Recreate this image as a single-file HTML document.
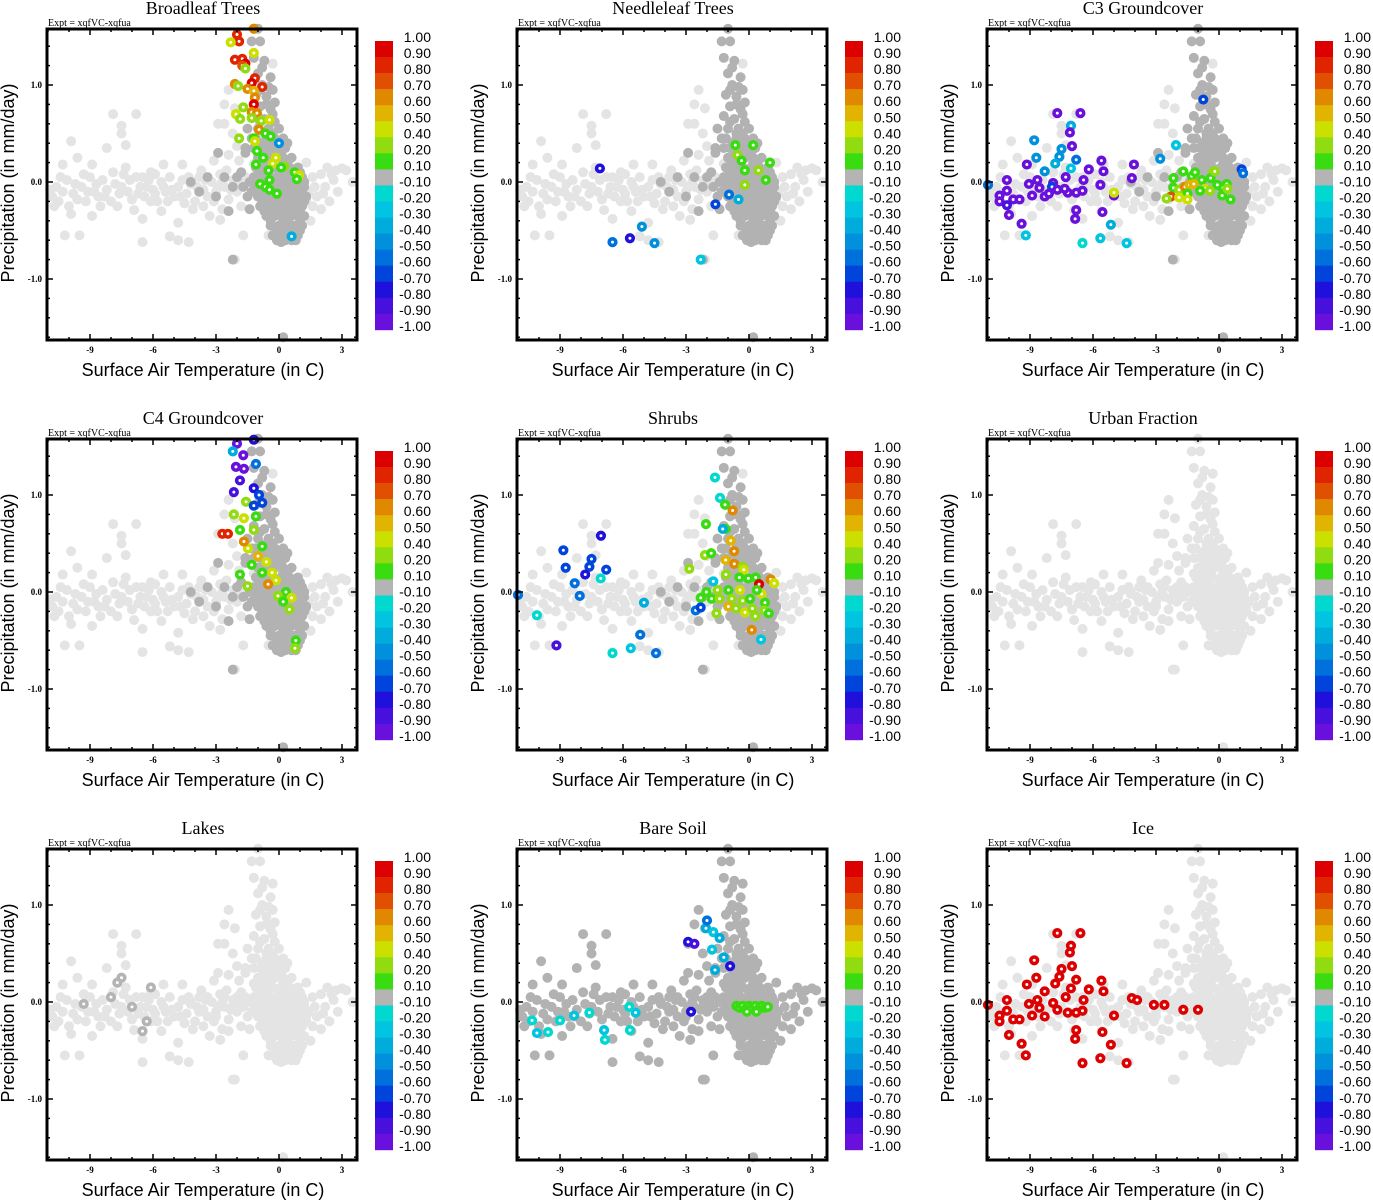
<!DOCTYPE html>
<html><head><meta charset="utf-8">
<style>
html,body{margin:0;padding:0;background:#fff;}
svg{display:block;}
.ttl{font-family:"Liberation Serif",serif;font-size:18px;}
.expt{font-family:"Liberation Serif",serif;font-size:10px;}
.tick{font-family:"Liberation Serif",serif;font-size:9px;font-weight:bold;}
.axt{font-family:"Liberation Sans",sans-serif;font-size:18px;}
.cbl{font-family:"Liberation Sans",sans-serif;font-size:14px;}
</style></head>
<body>
<svg id="fig" width="1373" height="1200" viewBox="0 0 1373 1200" xmlns="http://www.w3.org/2000/svg"></svg>
<script>
// ---- data (temperature in C, precipitation in mm/day, value) ----
const panelTitles = ["Broadleaf Trees","Needleleaf Trees","C3 Groundcover","C4 Groundcover","Shrubs","Urban Fraction","Lakes","Bare Soil","Ice"];
const xTicks = [-9,-6,-3,0,3];
const yTicks = [1.0,0.0,-1.0];
const yTickLabels = ["1.0","0.0","-1.0"];
const cbLevels = [1.0,0.9,0.8,0.7,0.6,0.5,0.4,0.2,0.1,-0.1,-0.2,-0.3,-0.4,-0.5,-0.6,-0.7,-0.8,-0.9,-1.0];
const cbLabels = ["1.00","0.90","0.80","0.70","0.60","0.50","0.40","0.20","0.10","-0.10","-0.20","-0.30","-0.40","-0.50","-0.60","-0.70","-0.80","-0.90","-1.00"];
const cbColors = ["#dc0000","#e02400","#e05000","#e08800","#e0b400","#cce000","#90dc10","#38dc10","#b4b4b4","#00d8d0","#00c4e0","#00acdc","#0090dc","#0070dc","#0044dc","#2010dc","#4810dc","#6a10dc"];

const bandPts = [[-10.8,-0.15],[-10.6,-0.05],[-10.5,-0.2],[-10.3,-0.1],[-10.1,0.02],[-10,-0.25],[-9.8,-0.12],[-9.6,-0.18],[-9.4,-0.05],[-9.2,-0.2],[-9,0.05],[-8.8,-0.1],[-8.6,-0.15],[-8.4,0.02],[-8.2,-0.08],[-8,-0.2],[-7.8,-0.02],[-7.6,-0.12],[-7.4,0.08],[-7.2,-0.1],[-7,-0.18],[-6.8,0.05],[-6.6,-0.05],[-6.4,-0.15],[-6.2,0.02],[-6,-0.08],[-5.8,-0.2],[-5.6,0.0],[-5.4,-0.1],[-5.2,0.05],[-5,-0.15],[-4.8,-0.05],[-4.6,0.02],[-4.4,-0.12],[-4.2,-0.02],[-4,-0.2],[-3.8,0.05],[-3.6,-0.08],[-3.4,-0.15],[-3.2,0.0],[-3,-0.1],[-2.8,0.08],[-2.6,-0.05],[-2.4,-0.18],[-2.2,0.02],[-2,-0.1],[-1.8,-0.25],[-1.6,0.05],[1.2,0.0],[1.4,-0.1],[1.6,0.05],[1.8,-0.15],[2,0.08],[2.2,-0.05],[2.4,-0.2],[2.6,0.02],[2.8,-0.1],[3.2,0.12],[3.5,0.0],
[-10.3,0.18],[-9.9,0.42],[-9.6,0.25],[-8.9,0.18],[-8.2,0.35],[-7.9,0.7],[-7.5,0.58],[-7.5,0.5],[-7.3,0.38],[-6.8,0.7],[-6.5,0.05],[-5.5,0.18],[-4.6,0.18],[-3.1,0.22],[-2.9,0.6],[-2.6,0.6],[-2.4,0.28],[-2.0,0.37],[-2.1,0.76],[-1.9,0.22],[-1.2,0.19],[2.7,0.12],[3,0.14],
[-9.9,-0.33],[-9.5,-0.55],[-8.9,-0.35],[-6.9,-0.29],[-6.5,-0.38],[-5.6,-0.3],[-5.2,-0.56],[-4.8,-0.42],[-4.3,-0.62],[-3.3,-0.35],[-2.8,-0.39],[-2.1,-0.8],[-1.7,-0.55],[-0.5,-0.55],[0.5,-0.48],[1.5,-0.4],[2,-0.28],[-10.2,-0.55],[-6.5,-0.62],[-4.8,-0.6],
[-10.7,-0.25],[-9.1,-0.1],[-8.5,-0.25],[-7.7,-0.25],[-6.1,-0.2],[-5.9,0.08],[-4.1,-0.28],[-3.6,-0.25],[-2.7,-0.28],[-2.5,0.12],[-2.4,0.95],[-2.6,0.8],[-0.3,1.22],[-2.2,0.5],[1.6,-0.25],[2.3,0.15],[1.3,0.2],
[-10.9,-0.08],[-10.4,0.05],[-9.7,-0.02],[-9.3,0.08],[-8.7,-0.02],[-8.3,-0.15],[-7.9,0.1],[-7.5,-0.05],[-7.1,0.02],[-6.7,-0.12],[-6.3,-0.05],[-5.9,-0.12],[-5.5,-0.05],[-5.1,-0.08],[-4.7,-0.15],[-4.3,0.05],[-3.9,-0.05],[-3.5,0.02],[-3.1,-0.2],[-2.7,0.0],[-2.3,-0.08],[-1.9,0.0],[-5.3,-0.2],[-4.5,-0.22],[-3.7,0.12],[-2.9,-0.05],[1.3,-0.2],[1.7,-0.05],[2.1,-0.12],[2.5,0.08],[-7.3,0.15],[-6.1,0.1]];

const corePts = [[-0.6,0.45],[-0.2,0.45],[0.2,0.45],[-0.9,0.35],[-0.5,0.35],[-0.1,0.35],[0.3,0.35],[-1.0,0.25],[-0.6,0.25],[-0.2,0.25],[0.2,0.25],[0.6,0.25],[-1.1,0.15],[-0.7,0.15],[-0.3,0.15],[0.1,0.15],[0.5,0.15],[0.9,0.15],[-1.2,0.05],[-0.8,0.05],[-0.4,0.05],[0,0.05],[0.4,0.05],[0.8,0.05],[1.1,0.05],[-1.1,-0.05],[-0.7,-0.05],[-0.3,-0.05],[0.1,-0.05],[0.5,-0.05],[0.9,-0.05],[1.2,-0.05],[-1.0,-0.15],[-0.6,-0.15],[-0.2,-0.15],[0.2,-0.15],[0.6,-0.15],[1.0,-0.15],[1.3,-0.15],[-0.9,-0.25],[-0.5,-0.25],[-0.1,-0.25],[0.3,-0.25],[0.7,-0.25],[1.1,-0.25],[-0.6,-0.35],[-0.2,-0.35],[0.2,-0.35],[0.6,-0.35],[1.0,-0.35],[1.2,-0.35],[-0.4,-0.45],[0,-0.45],[0.4,-0.45],[0.8,-0.45],[1.1,-0.45],[-0.3,-0.55],[0.1,-0.55],[0.5,-0.55],[0.9,-0.55],
[-0.8,0.4],[-0.4,0.2],[0.0,0.1],[0.3,0.0],[0.7,-0.1],[0.0,-0.3],[0.4,-0.4],[0.8,-0.3],[-0.3,-0.1],[0.6,0.1],[1.0,0.0],[-0.5,0.0],
[-0.4,0.4],[0.0,0.4],[-0.7,0.3],[-0.3,0.3],[0.1,0.3],[0.4,0.2],[-0.8,0.2],[0.2,0.2],[-0.9,0.1],[-0.5,0.1],[0.3,0.1],[0.7,0.1],[1.0,0.1],[-1.0,0.0],[-0.6,0.0],[-0.2,0.0],[0.5,0.0],[0.8,0.0],[1.2,0.0],[-0.9,-0.1],[-0.5,-0.1],[-0.1,-0.1],[0.3,-0.1],[1.1,-0.1],[-0.8,-0.2],[-0.4,-0.2],[0.0,-0.2],[0.4,-0.2],[0.8,-0.2],[1.2,-0.2],[-0.7,-0.3],[-0.3,-0.3],[0.4,-0.3],[1.0,-0.3],[-0.4,-0.4],[0.2,-0.4],[0.6,-0.45],[1.0,-0.4],[-0.1,-0.5],[0.3,-0.5],[0.7,-0.5],[1.0,-0.5],[-0.1,-0.6],[0.3,-0.6],[0.6,-0.6],
[-4.2,0.0],[-3.8,-0.1],[-3.4,0.05],[-3.0,-0.15],[-2.6,0.05],[-2.2,-0.05],[-1.8,0.1],[-1.5,-0.15],[-2.9,0.3],[-2.4,-0.3],[-1.6,0.3],[-1.4,0.0],[-1.7,-0.05],[-2.0,0.05],[-1.3,-0.1],
[-1.0,1.58],[-1.3,1.45],[-0.9,1.45],[-1.2,1.28],[-0.7,1.25],[-1.0,1.12],[-0.4,1.08],[-0.8,1.0],[-0.3,0.95],[-1.1,0.9],[-0.6,0.88],[-0.2,0.82],[-0.9,0.78],[-0.4,0.75],[-1.2,0.68],[-0.7,0.65],[-0.2,0.62],[-1.5,0.55],[-1.0,0.55],[-0.5,0.55],[-1.3,0.45],[0.0,0.55],[-1.6,0.35],[0.4,0.4],[-1.4,-0.28],[0.1,-0.62],[0.8,-0.6],[-2.2,-0.8],[0.2,-1.6],
[-0.8,1.18],[-0.5,0.98],[-0.9,0.95],[-0.6,0.8],[-0.3,0.7],[-0.9,0.62],[-0.6,0.5],[-0.3,0.5],[-1.1,0.45],[-1.2,0.35]];

const broadleafVals = [[-1.2,1.58,.65],[-2.0,1.52,.85],[-1.9,1.45,.85],[-2.3,1.44,.45],[-1.2,1.33,.45],[-2.1,1.26,.85],[-1.75,1.27,.85],[-1.6,1.22,.95],[-1.75,1.2,.75],[-1.6,1.17,.3],[-1.15,1.07,.85],[-1.3,1.02,.95],[-0.8,0.98,.85],[-2.1,1.01,.65],[-1.95,0.99,.3],[-1.5,0.96,.65],[-1.2,0.94,.55],[-1.15,0.87,.65],[-1.2,0.8,.95],[-1.7,0.77,.3],[-2.05,0.7,.45],[-1.85,0.65,.3],[-1.3,0.72,.65],[-1.05,0.71,.65],[-1.3,0.66,.3],[-0.85,0.63,.3],[-0.45,0.64,.45],[-0.95,0.54,.65],[-0.65,0.5,.15],[-0.4,0.47,.15],[-1.9,0.45,.3],[-1.2,0.45,.15],[-1.15,0.42,.45],[-1.05,0.32,.15],[-0.75,0.25,.15],[-0.15,0.25,.45],[-0.3,0.19,.45],[-1.1,0.18,.15],[0.25,0.16,.3],[0.1,0.15,.15],[-0.5,0.12,.15],[0.75,0.1,.15],[0.95,0.07,.45],[0.85,0.03,.15],[-0.45,0.02,.15],[-0.9,-0.02,.15],[-0.65,-0.05,.15],[-0.1,-0.12,.15],[0.0,0.4,-.45],[0.6,-0.56,-.35],[-0.45,-0.08,.15]];
const needleleafVals = [[-7.1,0.14,-.75],[-6.5,-0.62,-.55],[-5.67,-0.58,-.75],[-5.1,-0.46,-.45],[-4.5,-0.63,-.45],[-2.3,-0.8,-.25],[-1.6,-0.23,-.65],[-0.65,0.38,.15],[-0.55,0.28,.3],[-0.2,0.12,.15],[-0.2,-0.03,.3],[0.45,0.12,.3],[0.8,0.02,.15],[1.0,0.2,.15],[0.2,0.38,.15],[-0.35,0.22,.15],[-0.95,-0.13,-.55],[-0.5,-0.18,-.35]];
const c3Vals = [[-7.7,0.71,-.95],[-6.6,0.71,-.95],[-7.05,0.58,-.35],[-7.1,0.51,-.95],[-8.8,0.43,-.45],[-7.0,0.37,-.95],[-7.5,0.34,-.45],[-7.6,0.26,-.45],[-8.7,0.25,-.45],[-6.8,0.23,-.55],[-9.15,0.18,-.95],[-7.8,0.19,-.35],[-5.6,0.22,-.95],[-4.05,0.18,-.95],[-8.3,0.11,-.45],[-7.05,0.14,-.25],[-6.2,0.13,-.95],[-5.5,0.11,-.95],[-7.3,0.05,-.95],[-6.45,0.02,-.95],[-8.65,0.02,-.95],[-10.1,0.02,-.95],[-9.05,-0.02,-.95],[-7.9,-0.01,-.95],[-7.95,-0.05,-.65],[-11.0,-0.03,-.55],[-8.55,-0.06,-.95],[-7.7,-0.08,-.95],[-7.2,-0.11,-.95],[-7.35,-0.07,-.95],[-6.8,-0.11,-.95],[-6.5,-0.09,-.95],[-5.65,-0.03,-.95],[-10.1,-0.09,-.95],[-8.9,-0.14,-.95],[-8.3,-0.15,-.95],[-8.1,-0.12,-.95],[-10.45,-0.14,-.95],[-10.45,-0.2,-.95],[-9.8,-0.18,-.95],[-9.5,-0.18,-.95],[-10.1,-0.24,-.85],[-5.0,-0.14,-.95],[-4.15,0.04,-.95],[-5.0,-0.11,.45],[-10.0,-0.34,-.95],[-6.8,-0.29,-.95],[-5.55,-0.31,-.95],[-6.85,-0.38,-.95],[-9.4,-0.43,-.95],[-9.2,-0.55,-.25],[-6.5,-0.63,-.15],[-5.65,-0.58,-.25],[-4.4,-0.63,-.25],[-5.15,-0.44,-.35],[-2.8,0.24,-.45],[-2.05,0.38,-.25],[-0.75,0.85,-.65],[1.08,0.13,-.65],[1.15,0.09,-.55],
[-1.7,0.11,.15],[-1.3,0.06,.15],[-2.17,0.04,.15],[-0.82,0.02,.15],[-0.27,0.11,.3],[-0.4,0.04,.15],[0.13,-0.05,.15],[0.37,-0.02,.15],[-0.08,-0.03,.15],[-2.17,-0.06,.15],[-1.9,-0.08,.3],[-1.62,-0.05,.65],[-1.4,-0.03,.55],[-1.2,-0.02,.55],[-0.67,-0.07,.45],[-0.43,-0.09,.3],[-0.9,-0.09,.15],[0.15,-0.14,.15],[0.4,-0.07,.3],[0.55,-0.18,.15],[-1.5,-0.12,.15],[-2.29,-0.15,.75],[-2.5,-0.17,.3],[-1.9,-0.16,.45],[-1.5,-0.18,.45],[-1.14,0.1,.15],[-0.2,0.11,.3]];
const c4Vals = [[-2.0,1.53,-.95],[-1.2,1.57,-.75],[-2.2,1.45,-.35],[-1.7,1.41,-.95],[-2.05,1.29,-.95],[-1.67,1.27,-.95],[-1.1,1.32,-.55],[-1.86,1.15,-.85],[-2.15,1.03,-.85],[-1.2,1.07,-.75],[-0.95,1.0,-.65],[-0.8,0.92,-.65],[-1.57,0.93,.3],[-1.2,0.89,-.65],[-2.15,0.8,.3],[-1.67,0.76,.45],[-1.1,0.78,.15],[-2.7,0.6,.85],[-2.43,0.6,.85],[-1.86,0.64,.15],[-1.2,0.64,.3],[-1.48,0.45,.45],[-0.8,0.47,.15],[-1.67,0.52,.65],[-1.0,0.37,.55],[-0.6,0.31,.45],[-0.33,0.2,.45],[-1.3,0.28,.15],[-0.8,0.2,.15],[-0.14,0.12,.45],[-0.52,0.08,.65],[0.33,0.0,.15],[-0.05,-0.04,.3],[0.6,-0.06,.45],[0.2,-0.1,.15],[0.5,-0.18,.3],[0.8,-0.5,.15],[0.76,-0.58,.3],[-1.86,0.18,.15],[-1.5,0.06,.3]];
const shrubVals = [[-8.84,0.43,-.65],[-8.73,0.25,-.65],[-7.05,0.58,-.75],[-7.5,0.34,-.65],[-7.6,0.26,-.65],[-7.8,0.18,-.75],[-6.8,0.23,-.65],[-8.3,0.09,-.55],[-8.06,-0.04,-.55],[-7.06,0.14,-.15],[-11.0,-0.03,-.55],[-10.1,-0.24,-.15],[-9.17,-0.55,-.85],[-6.5,-0.63,-.15],[-5.63,-0.58,-.25],[-4.43,-0.63,-.55],[-5.18,-0.44,-.55],[-5.0,-0.11,-.35],[-1.62,1.18,-.15],[-1.38,0.97,-.15],[-1.14,0.9,.15],[-0.78,0.84,.65],[-2.05,0.7,.15],[-1.11,0.65,.15],[-2.1,0.38,.3],[-1.8,0.4,.15],[-2.84,0.24,.3],[-0.87,0.53,.55],[-0.71,0.42,.65],[-1.11,0.33,.55],[-0.7,0.29,.65],[-0.3,0.26,.3],[-0.25,0.23,.45],[-1.1,0.18,.3],[-0.46,0.15,.15],[-0.03,0.14,.15],[0.32,0.15,.15],[0.48,0.08,.95],[1.03,0.13,.65],[1.2,0.09,.45],[0.6,-0.02,.45],[0.37,0.02,.15],[-0.43,0.02,.45],[-0.98,0.02,.15],[-1.5,0.02,.3],[-2.03,0.0,.15],[-2.3,-0.06,.15],[-1.78,-0.07,.15],[-1.4,-0.07,.3],[-0.82,-0.07,.3],[-0.3,-0.09,.3],[0.05,-0.07,.15],[-0.98,-0.15,.55],[-0.62,-0.17,.3],[-0.19,-0.21,.45],[0.16,-0.17,.3],[0.76,-0.11,.15],[0.73,-0.19,.3],[0.94,-0.22,.15],[0.3,-0.25,.3],[0.13,-0.39,.65],[0.57,-0.49,-.25],[-1.55,-0.22,.3],[-2.54,-0.19,-.55],[-2.3,-0.16,-.65],[-1.25,0.65,-.35],[-1.7,0.11,-.25]];
const urbanVals = [];
const lakeVals = [[-9.3,-0.02,0],[-7.5,0.25,0],[-7.7,0.2,0],[-6.5,-0.3,0],[-6.1,0.15,0],[-7,-0.05,0],[-8,0.05,0],[-6.3,-0.2,0]];
const soilVals = [[-2.9,0.62,-.75],[-2.6,0.6,-.85],[-2.05,0.76,-.35],[-1.7,0.72,-.25],[-2.0,0.84,-.55],[-1.4,0.66,-.35],[-1.76,0.54,-.25],[-1.2,0.46,-.35],[-1.62,0.33,-.35],[-0.9,0.37,-.75],
[-0.6,-0.04,.15],[-0.45,-0.06,.15],[-0.3,-0.04,.15],[-0.15,-0.07,.15],[0.0,-0.04,.15],[0.15,-0.06,.15],[0.3,-0.04,.15],[0.45,-0.07,.15],[0.6,-0.04,.15],[0.75,-0.06,.15],[0.9,-0.05,.15],[-0.1,-0.1,.15],[0.35,-0.1,.15],
[-10.33,-0.19,-.15],[-10.1,-0.32,-.25],[-9.0,-0.19,-.15],[-8.33,-0.14,-.25],[-7.6,-0.11,-.15],[-6.9,-0.29,-.25],[-6.86,-0.39,-.15],[-5.67,-0.29,-.15],[-5.4,-0.11,-.25],[-5.7,-0.05,-.15],[-9.57,-0.31,-.15],[-2.76,-0.1,-.75]];
const iceVals = [[-7.7,0.71,.95],[-6.6,0.71,.95],[-7.05,0.58,.95],[-7.1,0.51,.95],[-8.8,0.43,.95],[-7.0,0.37,.95],[-7.5,0.34,.95],[-7.6,0.26,.95],[-8.7,0.25,.95],[-6.8,0.23,.95],[-9.15,0.18,.95],[-7.8,0.19,.95],[-5.6,0.22,.95],[-8.3,0.11,.95],[-7.05,0.14,.95],[-6.2,0.13,.95],[-5.5,0.11,.95],[-7.3,0.05,.95],[-6.45,0.02,.95],[-8.65,0.02,.95],[-10.1,0.02,.95],[-9.05,-0.02,.95],[-7.9,-0.01,.95],[-11.0,-0.03,.95],[-8.55,-0.06,.95],[-7.7,-0.08,.95],[-7.2,-0.11,.95],[-6.8,-0.11,.95],[-6.5,-0.09,.95],[-10.1,-0.09,.95],[-8.9,-0.14,.95],[-8.3,-0.15,.95],[-10.45,-0.14,.95],[-10.45,-0.2,.95],[-9.8,-0.18,.95],[-9.5,-0.18,.95],[-5.0,-0.14,.95],[-4.15,0.04,.95],[-10.0,-0.34,.95],[-6.8,-0.29,.95],[-5.55,-0.31,.95],[-6.85,-0.38,.95],[-9.4,-0.43,.95],[-9.2,-0.55,.95],[-6.5,-0.63,.95],[-5.65,-0.58,.95],[-4.4,-0.63,.95],[-5.15,-0.44,.95],[-3.1,-0.03,.95],[-2.6,-0.03,.95],[-1.7,-0.08,.95],[-1.0,-0.08,.95],[-3.9,0.02,.95]];
const panelVals = [broadleafVals,needleleafVals,c3Vals,c4Vals,shrubVals,urbanVals,lakeVals,soilVals,iceVals];
const coreDark = [true,true,true,true,true,false,false,true,false];
const bandDark = [false,false,false,false,false,false,false,true,false];

// ---- drawing ----
const NS = "http://www.w3.org/2000/svg";
const svg = document.getElementById("fig");
const LIGHT = "#e4e4e4", DARK = "#b2b2b2";
function mk(tag, attrs, parent){
  const e = document.createElementNS(NS, tag);
  for (const k in attrs) e.setAttribute(k, attrs[k]);
  (parent||svg).appendChild(e);
  return e;
}
function colorFor(v){
  for (let i=0;i<cbColors.length;i++){
    const hi = cbLevels[i], lo = cbLevels[i+1];
    if (v <= hi && v >= lo) return cbColors[i];
  }
  return DARK;
}
const pLeft=47, pRight=357, pTop=29, pBot=340;
function drawPanel(idx){
  const ox = (idx%3)*470, oy = Math.floor(idx/3)*410;
  const xs = t => ox + 279 + 21*t;
  const ys = p => oy + 182 - 97*p;
  const g = mk("g", {});
  
  

  const t = mk("text", {x: ox+203, y: oy+14, "text-anchor":"middle", class:"ttl"}, g);
  t.textContent = panelTitles[idx];
  
  
  const ex = mk("text", {x: ox+48, y: oy+26, class:"expt"}, g);
  ex.textContent = "Expt = xqfVC-xqfua";
  
  

  const pts = mk("g", {}, g);
  
  
  function dot(x,y,c){
    const d = mk("circle", {cx: xs(x), cy: ys(y), r: 5, fill: c}, pts);
    
    
  }
  bandPts.forEach(p => dot(p[0], p[1], bandDark[idx] ? DARK : LIGHT));
  corePts.forEach(p => dot(p[0], p[1], coreDark[idx] ? DARK : LIGHT));
  panelVals[idx].forEach(p => {
    const d = mk("circle", {cx: xs(p[0]), cy: ys(p[1]), r: 3.3, fill: "#ffffff", stroke: colorFor(p[2]), "stroke-width": 3.6}, pts);
    
    
  });

  const frame = mk("rect", {x: ox+pLeft, y: oy+pTop, width: pRight-pLeft, height: pBot-pTop, fill: "none", stroke: "#000", "stroke-width": 3}, g);
  
  

  const tk = mk("g", {stroke:"#000", "stroke-width":1.5}, g);
  
  
  for (let d=-11; d<=3; d++){
    const major = xTicks.indexOf(d) >= 0, L = major ? 6 : 3;
    mk("line", {x1: xs(d), x2: xs(d), y1: oy+pBot, y2: oy+pBot-L}, tk);
    mk("line", {x1: xs(d), x2: xs(d), y1: oy+pTop, y2: oy+pTop+L}, tk);
  }
  for (let k=-8; k<=7; k++){
    const v = k*0.2, major = (k%5===0), L = major ? 6 : 3;
    mk("line", {x1: ox+pLeft, x2: ox+pLeft+L, y1: ys(v), y2: ys(v)}, tk);
    mk("line", {x1: ox+pRight, x2: ox+pRight-L, y1: ys(v), y2: ys(v)}, tk);
  }
  xTicks.forEach(v => { const e = mk("text", {x: xs(v), y: oy+353, "text-anchor":"middle", class:"tick"}, g); e.textContent = String(v);
    
     });
  yTicks.forEach((v,i) => { const e = mk("text", {x: ox+42, y: ys(v)+3, "text-anchor":"end", class:"tick"}, g); e.textContent = yTickLabels[i];
    
     });

  const xt = mk("text", {x: ox+203, y: oy+376, "text-anchor":"middle", class:"axt"}, g);
  xt.textContent = "Surface Air Temperature (in C)";
  
  
  const yt = mk("text", {x: 0, y: 0, "text-anchor":"middle", class:"axt", transform: `translate(${ox+14},${oy+183}) rotate(-90)`}, g);
  yt.textContent = "Precipitation (in mm/day)";
  
  

  const cb = mk("g", {}, g);
  
  
  const cbTop = oy+41, step = 16.05;
  cbColors.forEach((c,i) => { const r = mk("rect", {x: ox+375, y: cbTop+i*step, width: 18, height: step+0.3, fill: c}, cb);
    
     });
  cbLabels.forEach((s,i) => { const e = mk("text", {x: ox+431, y: cbTop+i*step+1, "text-anchor":"end", class:"cbl"}, cb); e.textContent = s;
    
     });
}
for (let i=0;i<9;i++) drawPanel(i);
</script>
</body></html>
